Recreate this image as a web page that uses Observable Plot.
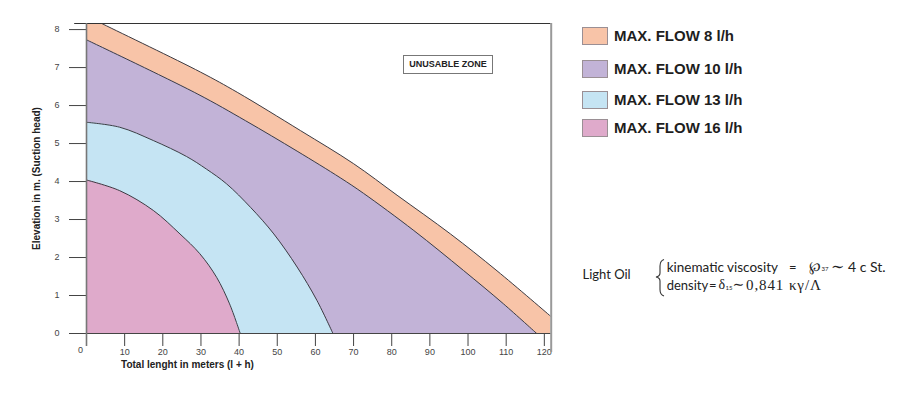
<!DOCTYPE html>
<html>
<head>
<meta charset="utf-8">
<script src="https://cdn.jsdelivr.net/npm/d3@7"></script>
<script src="https://cdn.jsdelivr.net/npm/@observablehq/plot@0.6"></script>
<style>
  body { margin: 0; background: #fff; }
  #wrap { position: relative; width: 917px; height: 393px; font-family: Arial, "Liberation Sans", sans-serif; }
  #wrap svg { position: absolute; left: 0; top: 0; }
  .abs { position: absolute; white-space: nowrap; }
  .sw { position: absolute; width: 26px; height: 18px; box-sizing: border-box; border: 1px solid #9a8f94; }
  .lg { position: absolute; font-weight: bold; font-size: 15px; color: #1e1e1e; line-height: 18px; }
  .oil { font-family: Lato, "Open Sans", sans-serif; font-size: 13px; color: #222; line-height: 16px; }
  .serif { font-family: "Liberation Serif", "DejaVu Serif", serif; font-size: 14px; }
</style>
</head>
<body>
<div id="wrap"></div>
<script>
// ---- data ----
const series = ["MAX. FLOW 8 l/h", "MAX. FLOW 10 l/h", "MAX. FLOW 13 l/h", "MAX. FLOW 16 l/h"];
const colors = ["#F8C4A8", "#C2B3D7", "#C5E4F3", "#DFAACB"];

// outer limit of each zone: total length (m) vs elevation (m)
const flow8X  = [0, 4.2, 29.9, 39.5, 56.1, 70, 81.4, 95.4, 107.6, 121.7];
const flow8Y  = [8.36, 8.15, 6.88, 6.35, 5.34, 4.47, 3.64, 2.62, 1.65, 0.45];
const flow10X = [0, 29, 41.7, 55.2, 66.5, 72.6, 85.8, 98.8, 109.3, 118];
const flow10Y = [7.73, 6.31, 5.6, 4.8, 4.1, 3.69, 2.71, 1.66, 0.78, 0];
const flow13X = [0, 8.7, 17.5, 26.2, 31.4, 36.7, 43, 49.1, 55.2, 60.4, 64.6];
const flow13Y = [5.56, 5.43, 5.08, 4.66, 4.33, 3.94, 3.32, 2.62, 1.75, 0.87, 0];
const flow16X = [0, 8.7, 17.5, 24.5, 29.7, 34.1, 37.5, 40.3];
const flow16Y = [4.04, 3.76, 3.24, 2.62, 2.1, 1.48, 0.78, 0];

const xTicks = [0, 10, 20, 30, 40, 50, 60, 70, 80, 90, 100, 110, 120];
const yTicks = [0, 1, 2, 3, 4, 5, 6, 7, 8];
const xLabel = "Total lenght in meters (l + h)";
const yLabel = "Elevation in m. (Suction head)";
const zoneLabel = "UNUSABLE ZONE";

const xMax = 121.8, yMax = 8.16;

const toRows = (xs, ys) => xs.map((x, i) => ({x, y: ys[i]}));
const zones = [
  toRows(flow8X, flow8Y),
  toRows(flow10X, flow10Y),
  toRows(flow13X, flow13Y),
  toRows(flow16X, flow16Y)
];

const marks = [];
zones.forEach((rows, i) => {
  marks.push(Plot.areaY(rows, {x: "x", y: "y", fill: colors[i], curve: "catmull-rom", clip: true}));
  marks.push(Plot.lineY(rows, {x: "x", y: "y", stroke: "#3c3c44", strokeWidth: 1, curve: "catmull-rom", clip: true}));
});

// frame lines
marks.push(Plot.ruleY([yMax], {x1: -3.1, x2: xMax, stroke: "#333", strokeWidth: 1.2}));
marks.push(Plot.ruleY([0], {x1: 0, x2: xMax, stroke: "#444", strokeWidth: 1.2}));
marks.push(Plot.ruleX([0], {y1: -0.34, y2: yMax, stroke: "#777", strokeWidth: 1.6}));
marks.push(Plot.ruleX([xMax], {y1: -0.5, y2: yMax, stroke: "#999", strokeWidth: 2}));

// x label "0" shifted as in reference
marks.push(Plot.text(xTicks.filter(d => d === 0), {x: d => d, text: d => String(d), frameAnchor: "bottom", dy: 19, dx: -6, fontSize: 9, fill: "#444"}));

// axis titles
marks.push(Plot.text([xLabel], {frameAnchor: "bottom-left", dx: 101, dy: 34, fontSize: 10, fontWeight: "bold", fill: "#222", textAnchor: "middle"}));
marks.push(Plot.text([yLabel], {frameAnchor: "left", dx: -50, rotate: -90, fontSize: 10, fontWeight: "bold", fill: "#222", textAnchor: "middle"}));

const chart = Plot.plot({
  width: 917,
  height: 393,
  marginLeft: 86,
  marginRight: 366.3,
  marginTop: 23,
  marginBottom: 60,
  style: {fontFamily: "Arial, 'Liberation Sans', sans-serif", fontSize: "9px", color: "#444", background: "transparent"},
  x: {domain: [0, xMax], ticks: xTicks, tickSize: 13, tickPadding: 2, label: null, tickFormat: d => d === 0 ? "" : String(d)},
  y: {domain: [0, yMax], ticks: yTicks, tickSize: 17, tickPadding: 10, label: null},
  marks
});

const wrap = document.getElementById("wrap");
wrap.appendChild(chart);

// unusable zone box
const box = document.createElement("div");
box.className = "abs";
box.style.cssText = "left:403px;top:55px;width:90px;height:19px;box-sizing:border-box;border:1px solid #777;font-weight:bold;font-size:9px;color:#222;text-align:center;line-height:17px;";
box.textContent = zoneLabel;
wrap.appendChild(box);

// legend
const rowTops = [26.7, 60, 90.7, 119];
series.forEach((s, i) => {
  const sq = document.createElement("div");
  sq.className = "sw";
  sq.style.left = "581.5px";
  sq.style.top = rowTops[i] + "px";
  sq.style.background = colors[i];
  wrap.appendChild(sq);
  const t = document.createElement("div");
  t.className = "lg";
  t.style.left = "614px";
  t.style.top = rowTops[i] + "px";
  t.textContent = s;
  wrap.appendChild(t);
});

// Light oil note
function put(html, left, cy, cls, extra) {
  const d = document.createElement("div");
  d.className = "abs " + (cls || "oil");
  d.style.left = left + "px";
  d.style.top = (cy - 8) + "px";
  if (extra) d.style.cssText += extra;
  d.innerHTML = html;
  wrap.appendChild(d);
}
put("Light Oil", 582.5, 274.3);
put("kinematic viscosity", 666.7, 266.7, "oil", "font-size:13.5px;");
put("=", 789, 266.7);
put("&#8472;", 809, 266.7, "oil serif");
put("37", 821.5, 269, "oil", "font-size:6px;line-height:8px;top:265px;");
put("&#8764;", 831, 266.5, "oil serif", "font-size:16px;line-height:16px;");
put("4 c St.", 848, 266.7, "oil", "font-size:14px;");
put("density", 666.7, 285);
put("=", 709, 285);
put("&#948;", 718.5, 285, "oil serif");
put("15", 725.5, 288, "oil", "font-size:6px;line-height:8px;top:284px;");
put("&#8764;", 732.5, 284.5, "oil serif", "font-size:14px;");
put("0,841 &#954;&#947;/&#923;", 746, 285, "oil serif", "font-size:15px;letter-spacing:0.9px;");

const ns = "http://www.w3.org/2000/svg";
const bs = document.createElementNS(ns, "svg");
bs.setAttribute("width", "917"); bs.setAttribute("height", "393");
bs.style.pointerEvents = "none";
const p = document.createElementNS(ns, "path");
p.setAttribute("d", "M664,259.5 C661,260.5 660,262.5 660,266 L660,273 C660,275.5 659,276.5 656,277 C659,277.5 660,278.5 660,281 L660,289.5 C660,293 661,295 664,296");
p.setAttribute("fill", "none");
p.setAttribute("stroke", "#333");
p.setAttribute("stroke-width", "1.1");
bs.appendChild(p);
wrap.appendChild(bs);
</script>
</body>
</html>
